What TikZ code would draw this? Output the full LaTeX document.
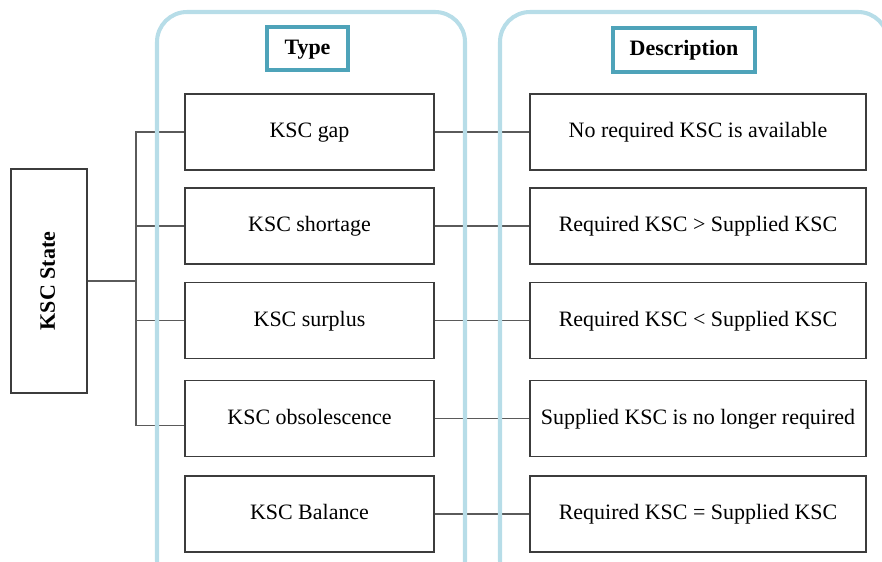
\documentclass[tikz,border=0pt]{standalone}
\usepackage{fontspec}
\setmainfont{Liberation Serif}
\usetikzlibrary{positioning, calc, fit}
\definecolor{framecol}{RGB}{183,221,232}
\definecolor{headcol}{RGB}{78,163,185}
\definecolor{boxcol}{RGB}{60,60,60}
\definecolor{linecol}{RGB}{90,90,90}
\newcommand{\branch}[3]
{
	\draw[connector] (#3) |- ($ (#2.west) + (0,#1) $)
}

\begin{document}
\begin{tikzpicture}[
	every node/.append style={font=\fontsize{12.5}{15}\selectfont, text height=1.45ex, text depth=0pt},
	kscbox/.style={draw=boxcol, line width=0.75pt, minimum height=1.52cm},
	typebox/.style={kscbox, minimum width=4.98cm},
	descbox/.style={kscbox, minimum width=6.72cm},
	headbox/.style={draw=headcol, line width=2pt, font=\fontsize{12.5}{15}\selectfont\bfseries},
	frame/.style={draw=framecol, line width=2.3pt, rounded corners=0.6cm},
	connector/.style={draw=linecol, line width=0.7pt}]

	\useasboundingbox (0,0) rectangle (17.64,11.22);
	\clip (0,0) rectangle (17.64,11.22);

	\node[kscbox, minimum width=1.52cm, minimum height=4.48cm] at (0.98, 5.6) (State){};
	\node[rotate=90, font=\fontsize{12.5}{15}\selectfont\bfseries] at (State.center) {KSC State};

	\node[headbox, minimum width=1.62cm, minimum height=0.86cm] at (6.15, 10.25) (TypeHead){Type};
	\node[headbox, minimum width=2.84cm, minimum height=0.88cm] at (13.68, 10.22) (DescHead){Description};

	\node[typebox] at (6.19, 8.58) (T1){KSC gap};
	\node[typebox] at (6.19, 6.70) (T2){KSC shortage};
	\node[typebox] at (6.19, 4.81) (T3){KSC surplus};
	\node[typebox] at (6.19, 2.85) (T4){KSC obsolescence};
	\node[typebox] at (6.19, 0.94) (T5){KSC Balance};

	\node[descbox] at (13.96, 8.58) (D1){No required KSC is available};
	\node[descbox] at (13.96, 6.70) (D2){Required KSC > Supplied KSC};
	\node[descbox] at (13.96, 4.81) (D3){Required KSC < Supplied KSC};
	\node[descbox] at (13.96, 2.85) (D4){Supplied KSC is no longer required};
	\node[descbox] at (13.96, 0.94) (D5){Required KSC = Supplied KSC};

	% tree from the state box
	\coordinate (Trunk) at (2.72, 5.6);
	\draw[connector] (State.east) -- (Trunk);
	\branch{0}{T1}{Trunk};
	\branch{0}{T2}{Trunk};
	\branch{0}{T3}{Trunk};
	\branch{-0.14}{T4}{Trunk};

	% type to description
	\draw[connector] (T1.east) -- (D1.west);
	\draw[connector] (T2.east) -- (D2.west);
	\draw[connector] (T3.east) -- (D3.west);
	\draw[connector] (T4.east) -- (D4.west);
	\draw[connector] (T5.east) -- (D5.west);

	% column frames
	\draw[frame] (3.14, -0.6) rectangle (9.30, 10.98);
	\draw[frame] (10.0, -0.6) rectangle (17.76, 10.98);
\end{tikzpicture}
\end{document}
